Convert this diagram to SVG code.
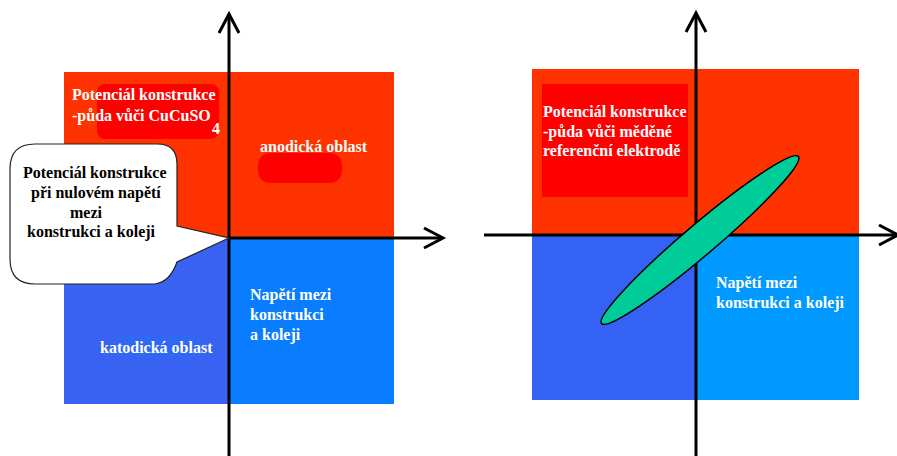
<svg xmlns="http://www.w3.org/2000/svg" width="897" height="456" viewBox="0 0 897 456">
<style>
text{font-family:"Liberation Serif","DejaVu Serif","Times New Roman",serif;font-weight:bold;font-size:16px}
.w{fill:#ffffff}
.k{fill:#000000}
.ax{stroke:#000;stroke-width:3;fill:none}
</style>
<defs>
<marker id="arr" viewBox="-22 -12 24 24" markerWidth="24" markerHeight="24" refX="0" refY="0" orient="auto" markerUnits="userSpaceOnUse" overflow="visible">
<path d="M -19 -10 L 0 0 L -19 10" fill="none" stroke="#000" stroke-width="3"/>
</marker>
</defs>
<rect width="897" height="456" fill="#ffffff"/>

<g id="left-panel">
<rect x="64" y="72" width="330" height="166" fill="#ff3300"/>
<rect x="64" y="238" width="166" height="166" fill="#3a62f2"/>
<rect x="230" y="238" width="164" height="166" fill="#0a7cff"/>
<rect x="97" y="84" width="122" height="55" rx="8" fill="#ff0000"/>
<rect x="258" y="153" width="84" height="30" rx="12" fill="#ff0000"/>
<rect x="115" y="335" width="88" height="23" rx="8" fill="#3068f4"/>
</g>

<g id="left-label-potential">
<text class="w" x="72" y="100">Potenciál konstrukce</text>
<text class="w" x="72" y="121">-půda vůči CuCuSO</text>
<text class="w" x="212" y="134">4</text>
</g>
<g id="left-label-anodic"><text class="w" x="260" y="152">anodická oblast</text></g>
<g id="left-label-cathodic"><text class="w" x="100" y="353">katodická oblast</text></g>
<g id="left-label-voltage">
<text class="w" x="250" y="300">Napětí mezi</text>
<text class="w" x="250" y="320">konstrukci</text>
<text class="w" x="250" y="340">a koleji</text>
</g>

<g id="right-panel">
<rect x="532" y="69" width="327" height="166" fill="#ff3300"/>
<rect x="532" y="235" width="164" height="165" fill="#3362f5"/>
<rect x="696" y="235" width="163" height="165" fill="#0099ff"/>
<rect x="542" y="84" width="146" height="113" fill="#ff0000"/>
</g>
<g id="right-label-potential">
<text class="w" x="543" y="117">Potenciál konstrukce</text>
<text class="w" x="543" y="137">-půda vůči měděné</text>
<text class="w" x="543" y="156">referenční elektrodě</text>
</g>
<g id="right-label-voltage">
<text class="w" x="716" y="288">Napětí mezi</text>
<text class="w" x="716" y="308">konstrukci a koleji</text>
</g>

<g id="connectors">
<line class="ax" x1="229" y1="456" x2="229" y2="14" marker-end="url(#arr)"/>
<line class="ax" x1="229" y1="238" x2="443" y2="238" marker-end="url(#arr)"/>
<line class="ax" x1="696" y1="456" x2="696" y2="13" marker-end="url(#arr)"/>
<line class="ax" x1="484" y1="235" x2="898" y2="235" marker-end="url(#arr)"/>
</g>

<g id="callout">
<path d="M 35 144 H 157 Q 177 144 177 164 V 226 L 229 238 L 177 262 Q 170 282 155 284 H 35 Q 10 284 10 259 V 169 Q 10 144 35 144 Z" fill="#ffffff" stroke="#222" stroke-width="1.2"/>
<text class="k" x="23" y="178">Potenciál konstrukce</text>
<text class="k" x="31" y="198">při nulovém napětí</text>
<text class="k" x="70" y="218">mezi</text>
<text class="k" x="27" y="237">konstrukci a koleji</text>
</g>

<g id="ellipse">
<ellipse cx="700" cy="240" rx="129" ry="15.5" transform="rotate(-40.3 700 240)" fill="#00cc99" stroke="#000" stroke-width="1.5"/>
</g>
</svg>
